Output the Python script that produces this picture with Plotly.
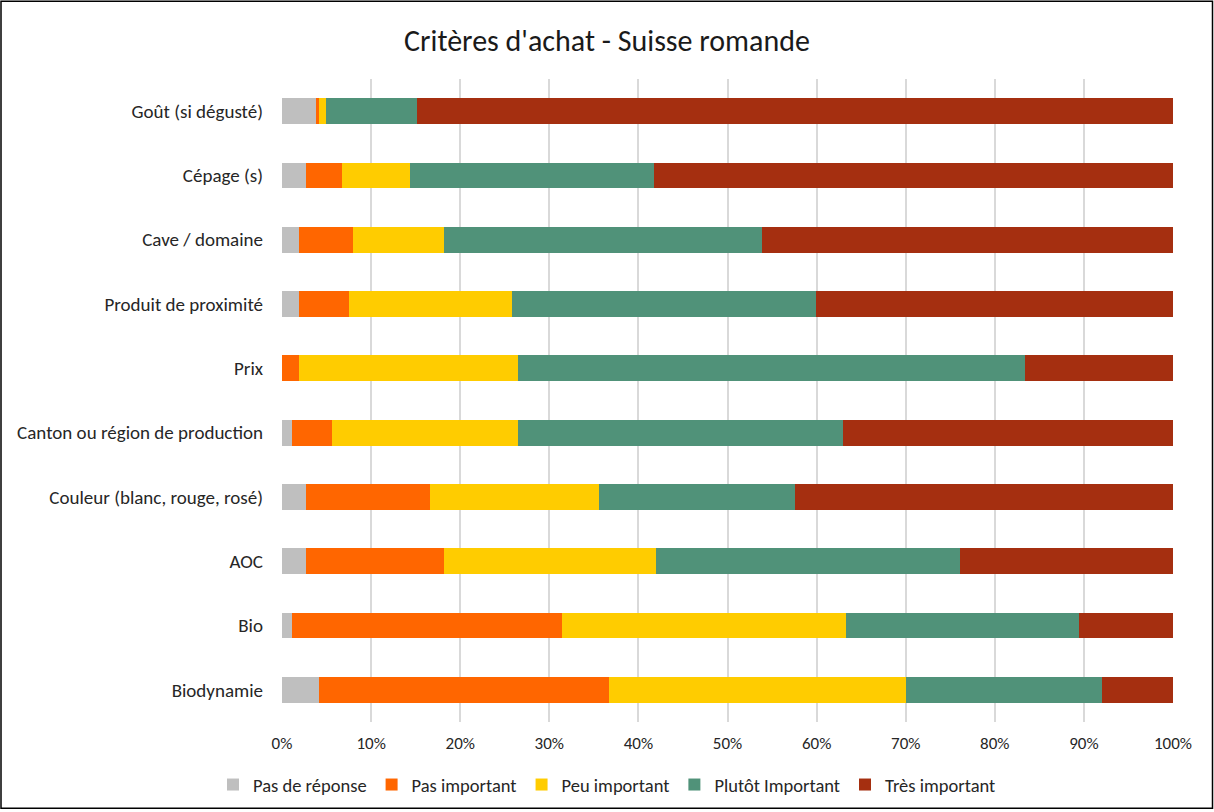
import plotly.graph_objects as go

categories = ["Goût (si dégusté)", "Cépage (s)", "Cave / domaine", "Produit de proximité", "Prix",
              "Canton ou région de production", "Couleur (blanc, rouge, rosé)", "AOC", "Bio", "Biodynamie"]

series_names = ["Pas de réponse", "Pas important", "Peu important", "Plutôt Important", "Très important"]

pas_de_reponse = [3.8, 2.7, 1.9, 1.9, 0.0, 1.1, 2.7, 2.7, 1.1, 4.2]
pas_important = [0.4, 4.0, 6.1, 5.6, 1.9, 4.5, 13.9, 15.5, 30.3, 32.5]
peu_important = [0.7, 7.7, 10.2, 18.3, 24.6, 20.9, 19.0, 23.8, 31.9, 33.3]
plutot_important = [10.2, 27.4, 35.7, 34.1, 56.9, 36.5, 22.0, 34.1, 26.2, 22.0]
tres_important = [84.9, 58.2, 46.1, 40.1, 16.6, 37.0, 42.4, 23.9, 10.5, 8.0]

tick_values = [0, 10, 20, 30, 40, 50, 60, 70, 80, 90, 100]
tick_labels = ["0%", "10%", "20%", "30%", "40%", "50%", "60%", "70%", "80%", "90%", "100%"]

colors = ["#BFBFBF", "#FF6600", "#FFCC00", "#509279", "#A52F10"]
all_values = [pas_de_reponse, pas_important, peu_important, plutot_important, tres_important]

FONT = "Calibri, Carlito, 'Open Sans', 'Noto Sans', sans-serif"

fig = go.Figure()
for name, vals, col in zip(series_names, all_values, colors):
    fig.add_trace(go.Bar(
        y=categories, x=vals, name=name, orientation="h",
        marker=dict(color=col, line=dict(width=0)),
        hovertemplate="%{y}: %{x}%<extra>" + name + "</extra>",
    ))

W, H = 1214, 812
L, R, T, B = 282, 41, 79, 88
pw, ph = W - L - R, H - T - B

fig.update_layout(
    width=W, height=H,
    barmode="stack", bargap=0.6,
    margin=dict(l=L, r=R, t=T, b=B),
    paper_bgcolor="white", plot_bgcolor="white",
    font=dict(family=FONT, color="#262626", size=17),
    title=dict(text="Critères d'achat - Suisse romande", x=0.5, xanchor="center",
               y=1 - 40 / H, yanchor="middle",
               font=dict(size=30, color="#1a1a1a", family=FONT)),
    xaxis=dict(range=[0, 100], tickvals=tick_values, ticktext=tick_labels,
               showgrid=True, gridcolor="#D9D9D9", gridwidth=1.5,
               zeroline=False, showline=False, ticks="", ticklabelstandoff=9,
               tickfont=dict(size=17, color="#262626"), fixedrange=True),
    yaxis=dict(autorange="reversed", showgrid=False, zeroline=False, showline=False,
               ticks="", ticklabelstandoff=18,
               tickfont=dict(size=19, color="#262626"), fixedrange=True),
    legend=dict(orientation="h", x=0.5, xanchor="center",
                xref="container", y=1 - 785 / H, yref="container", yanchor="middle",
                traceorder="normal", font=dict(size=18.5, color="#262626"),
                itemwidth=30),
    showlegend=True,
)

fig.add_shape(type="rect", xref="paper", yref="paper",
              x0=-(L - 1) / pw, x1=(W - L - 1.5) / pw,
              y0=-(B - 1.5) / ph, y1=1 + (T - 1) / ph,
              line=dict(color="#000000", width=1.5), fillcolor="rgba(0,0,0,0)", layer="above")

fig.write_html("out.html", config={"displayModeBar": False},
               post_script="document.body.style.margin='0';document.body.style.overflow='hidden';")
